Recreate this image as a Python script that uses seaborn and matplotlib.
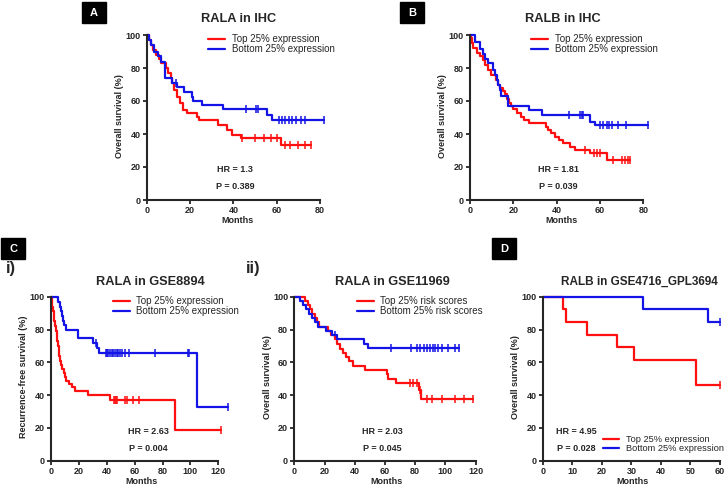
import numpy as np
import pandas as pd
import matplotlib
matplotlib.use('Agg')
import matplotlib.pyplot as plt
import seaborn as sns
from matplotlib.patches import Rectangle

# ---- values: step times (months) and survival (%) ----
# A: RALA in IHC
a_top_t = [0, 1, 2, 3, 4.5, 5.5, 6.5, 9, 10, 11, 11.5, 12.5, 13.8, 15.4, 16.9, 18.5, 23, 24, 33, 37, 39.5, 43.5, 62]
a_top_s = [100, 97, 94, 91, 88, 85.5, 82.8, 79.8, 76.8, 73.7, 70.7, 66.6, 62.6, 58.6, 54.5, 52.5, 50.5, 48.5, 45.5, 42.4, 39.4, 37.4, 33.3]
a_top_cens = [44, 50, 54, 57.5, 60, 64, 66, 70, 73, 76]
a_top_end = 76
a_bot_t = [0, 1, 2, 3.5, 5, 6.5, 8.5, 11.5, 14, 17, 20.8, 21.5, 25.4, 35.4, 55.4, 57.7]
a_bot_s = [100, 97, 94, 90, 87, 83.5, 74, 71.2, 68.7, 65.7, 62.6, 60.2, 57.6, 55.2, 51.5, 48.5]
a_bot_cens = [13.5, 45.7, 50.3, 51.5, 61, 62.5, 64, 65.5, 67, 69, 71, 73, 82]
a_bot_end = 82

# B: RALB in IHC
b_top_t = [0, 0.5, 1, 1.5, 3, 4.5, 6, 7, 8.5, 9.5, 12, 13, 14, 15, 16, 17, 18, 19, 20, 21.5, 23.5, 25, 27,
           35, 36, 37.5, 39, 41, 43, 46, 48.5, 55.5, 63]
b_top_s = [100, 98, 95, 92, 89, 87, 85, 82, 79, 76, 73, 70, 68, 66, 64, 61, 59, 57, 55, 52.5, 50.5, 48.5, 46.5,
           44.4, 42.4, 40.4, 38.4, 36.4, 34.3, 32.3, 30.3, 28.3, 24.2]
b_top_cens = [53, 57, 58.5, 60, 66, 70, 71.5, 73, 74]
b_top_end = 74
b_bot_t = [0, 2.3, 4.5, 6, 7, 8.5, 10.5, 11.5, 12.3, 13, 13.8, 14.5, 17.5, 27, 33, 55.4, 57.7]
b_bot_s = [100, 95.5, 91.5, 88.5, 85.5, 83, 79, 76, 73, 70, 66.6, 63, 57, 54.5, 51.5, 47.5, 45.5]
b_bot_cens = [45.5, 50.8, 51.5, 52.3, 60, 61.5, 63, 64, 65.5, 68.5, 72, 82]
b_bot_end = 82

# C i): RALA in GSE8894
c_top_t = [0, 0.5, 1, 1.5, 2, 2.5, 3, 3.5, 4, 4.5, 5, 5.5, 6, 6.5, 7, 8, 9, 10, 11, 13, 15, 17, 26.8, 42.3, 89]
c_top_s = [100, 97, 94, 91, 88, 85, 82, 79, 76, 73, 70, 67, 64, 61, 58.5, 56, 53.5, 51, 48.5, 46.5, 45, 42.7, 40, 37, 18.7]
c_top_cens = [45.2, 46, 46.6, 47.6, 53, 54.7, 59, 63, 122]
c_top_end = 122
c_bot_t = [0, 5.3, 6.5, 7.3, 8, 8.6, 9.5, 10.8, 19.6, 30.4, 33, 34.7, 105]
c_bot_s = [100, 97, 94, 91, 88, 85, 82.5, 80, 74.6, 71.5, 69, 65.9, 32.9]
c_bot_cens = [32, 39.2, 40, 41.1, 42.3, 43.5, 44.7, 45.9, 47.1, 48.3, 49.5, 50.7, 53, 56.2, 74.6, 98, 99, 127]
c_bot_end = 127

# C ii): RALA in GSE11969
d_top_t = [0, 7, 9, 10.5, 12, 13.5, 15, 16.5, 22.5, 24.5, 27, 28.5, 30, 32, 34, 36, 38.5, 46.5, 61, 62, 67, 82.5, 84]
d_top_s = [100, 97.4, 94.8, 92.2, 89.6, 87, 84.4, 81.8, 79.2, 76.6, 74, 71.4, 68.4, 65.8, 63.2, 60.5, 57.9, 55.3,
           52.6, 50, 47.4, 43.4, 37.9]
d_top_cens = [76.5, 78.5, 81, 83, 87.5, 91, 97.5, 106.5, 112, 118]
d_top_end = 118
d_bot_t = [0, 4, 6, 8, 10, 12, 14, 16, 21, 25, 28, 46, 48.5]
d_bot_s = [100, 97.4, 94.8, 92.2, 89.6, 87, 84.4, 81.8, 79.2, 76.6, 74, 71.4, 68.5]
d_bot_cens = [27, 64, 77, 81, 83, 86, 88, 90, 91.5, 93, 95, 98, 102, 106, 109]
d_bot_end = 109

# D: RALB in GSE4716_GPL3694
e_top_t = [0, 7, 8, 15, 25, 31, 52]
e_top_s = [100, 92.3, 84.6, 76.9, 69.2, 61.5, 46.2]
e_top_cens = [60]
e_top_end = 60
e_bot_t = [0, 34, 56]
e_bot_s = [100, 92.3, 84.6]
e_bot_cens = [60]
e_bot_end = 60

expr_labels = ['Top 25% expression', 'Bottom 25% expression']
risk_labels = ['Top 25% risk scores', 'Bottom 25% risk scores']
titles = ['RALA in IHC', 'RALB in IHC', 'RALA in GSE8894', 'RALA in GSE11969', 'RALB in GSE4716_GPL3694']
hr_text = ['HR = 1.3', 'HR = 1.81', 'HR = 2.63', 'HR = 2.03', 'HR = 4.95']
p_text = ['P = 0.389', 'P = 0.039', 'P = 0.004', 'P = 0.045', 'P = 0.028']

RED = '#ff1010'
BLUE = '#1414e6'
W, H = 726, 487

sns.set_style('ticks')
plt.rcParams['font.family'] = ['Liberation Sans', 'DejaVu Sans']

fig = plt.figure(figsize=(W / 100, H / 100), dpi=100)


def fx(x):
    return x / W


def fy(y):
    return 1 - y / H


def draw_km(ax, t, s, end, cens, color):
    df = pd.DataFrame({'t': list(t) + [end], 's': list(s) + [s[-1]]})
    sns.lineplot(data=df, x='t', y='s', ax=ax, color=color, lw=1.6, drawstyle='steps-post',
                 estimator=None, clip_on=False)
    ct = np.array(cens, dtype=float)
    cs = np.array(s)[np.searchsorted(t, ct, side='right') - 1]
    sns.scatterplot(x=ct, y=cs, ax=ax, marker='|', s=32, color=color, linewidth=1.1, clip_on=False)


def make_axes(left_px, zero_px, px_per_month, px_per_pct, xmax, xticks, ylabel):
    width = xmax * px_per_month
    height = 102 * px_per_pct
    ax = fig.add_axes([fx(left_px), fy(zero_px), width / W, height / H])
    ax.set_xlim(0, xmax)
    ax.set_ylim(0, 102)
    ax.set_xticks(xticks)
    ax.set_yticks(range(0, 101, 20))
    sns.despine(ax=ax)
    ax.spines['left'].set_bounds(0, 100)
    ax.spines['bottom'].set_bounds(xticks[0], xticks[-1])
    for sp in ['left', 'bottom']:
        ax.spines[sp].set_linewidth(1.5)
    ax.tick_params(width=1.3, length=3, labelsize=6.5, pad=1.5)
    for lab in ax.get_xticklabels() + ax.get_yticklabels():
        lab.set_fontweight('bold')
    ax.set_xlabel('Months', fontsize=6.5, fontweight='bold', labelpad=0.5)
    ax.set_ylabel(ylabel, fontsize=6.5, fontweight='bold', labelpad=1)
    return ax


def add_legend(ax, labels, x_px, y_px, size):
    ax.legend(handles=ax.get_lines()[:2], labels=labels, loc='upper left',
              bbox_to_anchor=(fx(x_px), fy(y_px)), bbox_transform=fig.transFigure,
              frameon=False, fontsize=size, handlelength=1.75, handletextpad=0.7,
              labelspacing=0.05, borderpad=0, borderaxespad=0)


panels = [
    # left, zero, px/month, px/pct, xmax, ticks, ylabel
    (146.7, 200, 2.1667, 1.65, 84, range(0, 81, 20), 'Overall survival (%)'),
    (470, 200, 2.1667, 1.65, 84, range(0, 81, 20), 'Overall survival (%)'),
    (51, 460.7, 1.394, 1.64, 130, range(0, 121, 20), 'Recurrence-free survival (%)'),
    (294.3, 460.7, 1.5117, 1.64, 122, range(0, 121, 20), 'Overall survival (%)'),
    (542.7, 460.7, 2.955, 1.64, 61, range(0, 61, 10), 'Overall survival (%)'),
]
curves = [
    (a_top_t, a_top_s, a_top_end, a_top_cens, a_bot_t, a_bot_s, a_bot_end, a_bot_cens),
    (b_top_t, b_top_s, b_top_end, b_top_cens, b_bot_t, b_bot_s, b_bot_end, b_bot_cens),
    (c_top_t, c_top_s, c_top_end, c_top_cens, c_bot_t, c_bot_s, c_bot_end, c_bot_cens),
    (d_top_t, d_top_s, d_top_end, d_top_cens, d_bot_t, d_bot_s, d_bot_end, d_bot_cens),
    (e_top_t, e_top_s, e_top_end, e_top_cens, e_bot_t, e_bot_s, e_bot_end, e_bot_cens),
]
legend_pos = [(208, 34), (531, 34), (112.5, 296), (356.5, 296), (603, 435)]
legend_size = [7, 7, 7, 7, 6.7]
legend_lab = [expr_labels, expr_labels, expr_labels, risk_labels, expr_labels]
title_pos = [(239, 18.5), (562.5, 18.5), (150, 282), (392, 282), (639, 282)]
title_size = [9.2, 9.2, 9.2, 9.2, 8.5]
hr_pos = [(235, 170), (558.5, 170), (148, 431.7), (382.5, 431.7), (576.5, 431.7)]

for i in range(5):
    ax = make_axes(*panels[i])
    tt, ts, te, tc, bt, bs, be, bc = curves[i]
    draw_km(ax, tt, ts, te, tc, RED)
    draw_km(ax, bt, bs, be, bc, BLUE)
    add_legend(ax, legend_lab[i], *legend_pos[i], legend_size[i])
    fig.text(fx(title_pos[i][0]), fy(title_pos[i][1]), titles[i], ha='center', va='center',
             fontsize=title_size[i], fontweight='bold')
    fig.text(fx(hr_pos[i][0]), fy(hr_pos[i][1]), hr_text[i], ha='center', va='center',
             fontsize=6.5, fontweight='bold')
    fig.text(fx(hr_pos[i][0]), fy(hr_pos[i][1] + 16.6), p_text[i], ha='center', va='center',
             fontsize=6.5, fontweight='bold')

# panel letters in black boxes
for letter, x0, y0 in [('A', 82, 2), ('B', 400, 2), ('C', 1, 238), ('D', 492, 238)]:
    fig.add_artist(Rectangle((fx(x0), fy(y0 + 21)), 24 / W, 21 / H, transform=fig.transFigure,
                             color='black'))
    fig.text(fx(x0 + 12), fy(y0 + 10.5), letter, color='white', ha='center', va='center',
             fontsize=8, fontweight='bold')

fig.text(fx(6), fy(268), 'i)', fontsize=12, fontweight='bold', va='center', ha='left')
fig.text(fx(246), fy(268), 'ii)', fontsize=12, fontweight='bold', va='center', ha='left')

fig.savefig('out.png', dpi=100)
